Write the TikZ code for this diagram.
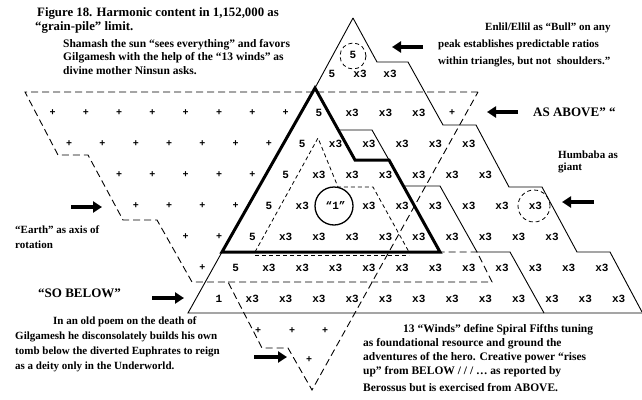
\documentclass[tikz,border=0pt]{standalone}
\usepackage{fontspec}
\usetikzlibrary{arrows.meta}
\setmainfont{Liberation Serif}
\newfontfamily\gridfont{Liberation Mono}
\begin{document}
\begin{tikzpicture}[x=1pt,y=-1pt,
  thinln/.style={line width=0.9pt},
  thickln/.style={line width=3pt,line join=miter},
  dashln/.style={line width=0.9pt,dash pattern=on 7pt off 4pt},
  sdash/.style={line width=0.8pt,dash pattern=on 4pt off 3pt},
  arr/.style={line width=3.4pt,-{Triangle[length=9pt,width=11pt]}},
  cell/.style={font=\gridfont\bfseries\fontsize{11}{11}\selectfont,inner sep=0pt},
  plus/.style={font=\gridfont\bfseries\fontsize{10}{10}\selectfont,inner sep=0pt},
  annA/.style={font=\bfseries\fontsize{12.8}{13}\selectfont,anchor=west,inner sep=0pt},
  ann/.style={font=\bfseries\fontsize{11}{11}\selectfont,anchor=west,inner sep=0pt},
  annL/.style={font=\bfseries\fontsize{11.5}{11.5}\selectfont,anchor=west,inner sep=0pt},
  big/.style={font=\bfseries\fontsize{13}{13}\selectfont,anchor=west,inner sep=0pt},
]
\useasboundingbox (0,0) rectangle (642,399);

% ---------- outlines ----------
\draw[thinln] (353,18) -- (315,88);
\draw[thinln] (222,252) -- (188,313) -- (642,313);
\draw[thinln] (353,18) -- (377,62) -- (408,62) -- (443,125) -- (476,125) -- (509,187)
  -- (542,187) -- (577,252) -- (610,252) -- (642,312);
\draw[thickln] (222,252) -- (315,88) -- (355,160) -- (389,160) -- (440,252) -- cycle;
\draw[thinln] (338,130) -- (372,130) -- (389,160);
\draw[thinln] (403,186) -- (440,186) -- (477,252) -- (510,252) -- (544,313);
\draw[dashln] (478,92) -- (25,92) -- (58,155) -- (88,155) -- (123,220) -- (157,220)
  -- (192,282) -- (228,282) -- (262,348) -- (288,348) -- (312,390) -- cycle;
\draw[dashln] (228,282) -- (492,282) -- (477,252) -- (440,252);
\draw[sdash] (255,252) -- (318,138) -- (338,187) -- (373,187) -- (409,252);
\draw[sdash] (255,255) -- (409,255);
\draw[line width=1.3pt] (334,206) circle[radius=19pt];
\draw[sdash] (353,56) circle[radius=13pt];
\draw[sdash] (534,206) circle[radius=16pt];

% ---------- grid ----------
\node[cell] (Z0) at (353,55) {5};
\node[cell] (A0) at (332,74) {5};
\node[cell] (A1) at (360,74) {x3};
\node[cell] (A2) at (390,74) {x3};
\foreach \c [count=\i] in {-8,...,-1} \node[plus] (Bp\i) at ({318.9+33.3*\c},113) {+};
\node[cell] (B0) at (318.9,113) {5};
\foreach \c in {1,...,3} \node[cell] (B\c) at ({318.9+33.3*\c},113) {x3};
\node[plus] (B4) at ({318.9+33.3*4},113) {+};
\foreach \c [count=\i] in {-7,...,-1} \node[plus] (Cp\i) at ({302.25+33.3*\c},144) {+};
\node[cell] (C0) at (302.25,144) {5};
\foreach \c in {1,...,5} \node[cell] (C\c) at ({302.25+33.3*\c},144) {x3};
\foreach \c [count=\i] in {-5,...,-1} \node[plus] (Dp\i) at ({285.6+33.3*\c},175) {+};
\node[cell] (D0) at (285.6,175) {5};
\foreach \c in {1,...,6} \node[cell] (D\c) at ({285.6+33.3*\c},175) {x3};
\foreach \c [count=\i] in {-4,...,-1} \node[plus] (Ep\i) at ({268.95+33.3*\c},206) {+};
\node[cell] (E0) at (268.95,206) {5};
\node[cell] (E1) at ({268.95+33.3},206) {x3};
\node[cell] (E2) at ({268.95+66.6},206) {“1”};
\foreach \c in {3,...,8} \node[cell] (E\c) at ({268.95+33.3*\c},206) {x3};
\foreach \c [count=\i] in {-2,-1} \node[plus] (Fp\i) at ({252.3+33.3*\c},237) {+};
\node[cell] (F0) at (252.3,237) {5};
\foreach \c in {1,...,9} \node[cell] (F\c) at ({252.3+33.3*\c},237) {x3};
\node[plus] (Gp1) at (202.35,268) {+};
\node[cell] (G0) at (235.65,268) {5};
\foreach \c in {1,...,11} \node[cell] (G\c) at ({235.65+33.3*\c},268) {x3};
\node[cell] (H0) at (219,299) {1};
\foreach \c in {1,...,12} \node[cell] (H\c) at ({219+33.3*\c},299) {x3};
\node[plus] (I1) at (258,331) {+};
\node[plus] (I2) at (292,331) {+};
\node[plus] (I3) at (325,331) {+};
\node[plus] (J1) at (309,360) {+};

% ---------- arrows ----------
\coordinate (a1s) at (423,47);  \coordinate (a1e) at (392,47);
\coordinate (a2s) at (518,112); \coordinate (a2e) at (487,112);
\coordinate (a3s) at (594,202); \coordinate (a3e) at (562,202);
\coordinate (a4s) at (71,207);  \coordinate (a4e) at (102,207);
\coordinate (a5s) at (152,298); \coordinate (a5e) at (184,298);
\coordinate (a6s) at (254,357); \coordinate (a6e) at (287,357);
\draw[arr] (a1s) -- (a1e);
\draw[arr] (a2s) -- (a2e);
\draw[arr] (a3s) -- (a3e);
\draw[arr] (a4s) -- (a4e);
\draw[arr] (a5s) -- (a5e);
\draw[arr] (a6s) -- (a6e);

% ---------- annotations ----------
\node[annA] (t1) at (37,13) {Figure 18. Harmonic content in 1,152,000 as};
\node[annA] (t2) at (35,27) {“grain-pile” limit.};
\node[annL] (s1) at (63,45) {Shamash the sun “sees everything” and favors};
\node[annL] (s2) at (63,58) {Gilgamesh with the help of the “13 winds” as};
\node[annL] (s3) at (63,71) {divine mother Ninsun asks.};
\node[ann] (e1) at (485,28) {Enlil/Ellil as “Bull” on any};
\node[ann] (e2) at (438,45) {peak establishes predictable ratios};
\node[ann] (e3) at (438,62) {within triangles, but not\ \ shoulders.”};
\node[big] (ab) at (533,112) {AS ABOVE” “};
\node[ann] (h1) at (558,155) {Humbaba as};
\node[ann] (h2) at (558,168) {giant};
\node[ann] (r1) at (15,230) {“Earth” as axis of};
\node[ann] (r2) at (15,245) {rotation};
\node[big] (sb) at (38,293) {“SO BELOW”};
\node[ann] (p1) at (53,322) {In an old poem on the death of};
\node[ann] (p2) at (15,337) {Gilgamesh he disconsolately builds his own};
\node[ann] (p3) at (15,352) {tomb below the diverted Euphrates to reign};
\node[ann] (p4) at (15,367) {as a deity only in the Underworld.};
\node[annL] (w1) at (403,330) {13 “Winds” define Spiral Fifths tuning};
\node[annL] (w2) at (363,344) {as foundational resource and ground the};
\node[annL] (w3) at (363,358) {adventures of the hero. Creative power “rises};
\node[annL] (w4) at (363,372) {up” from BELOW / / / … as reported by};
\node[annL] (w5) at (363,388) {Berossus but is exercised from ABOVE.};
\end{tikzpicture}
\end{document}
